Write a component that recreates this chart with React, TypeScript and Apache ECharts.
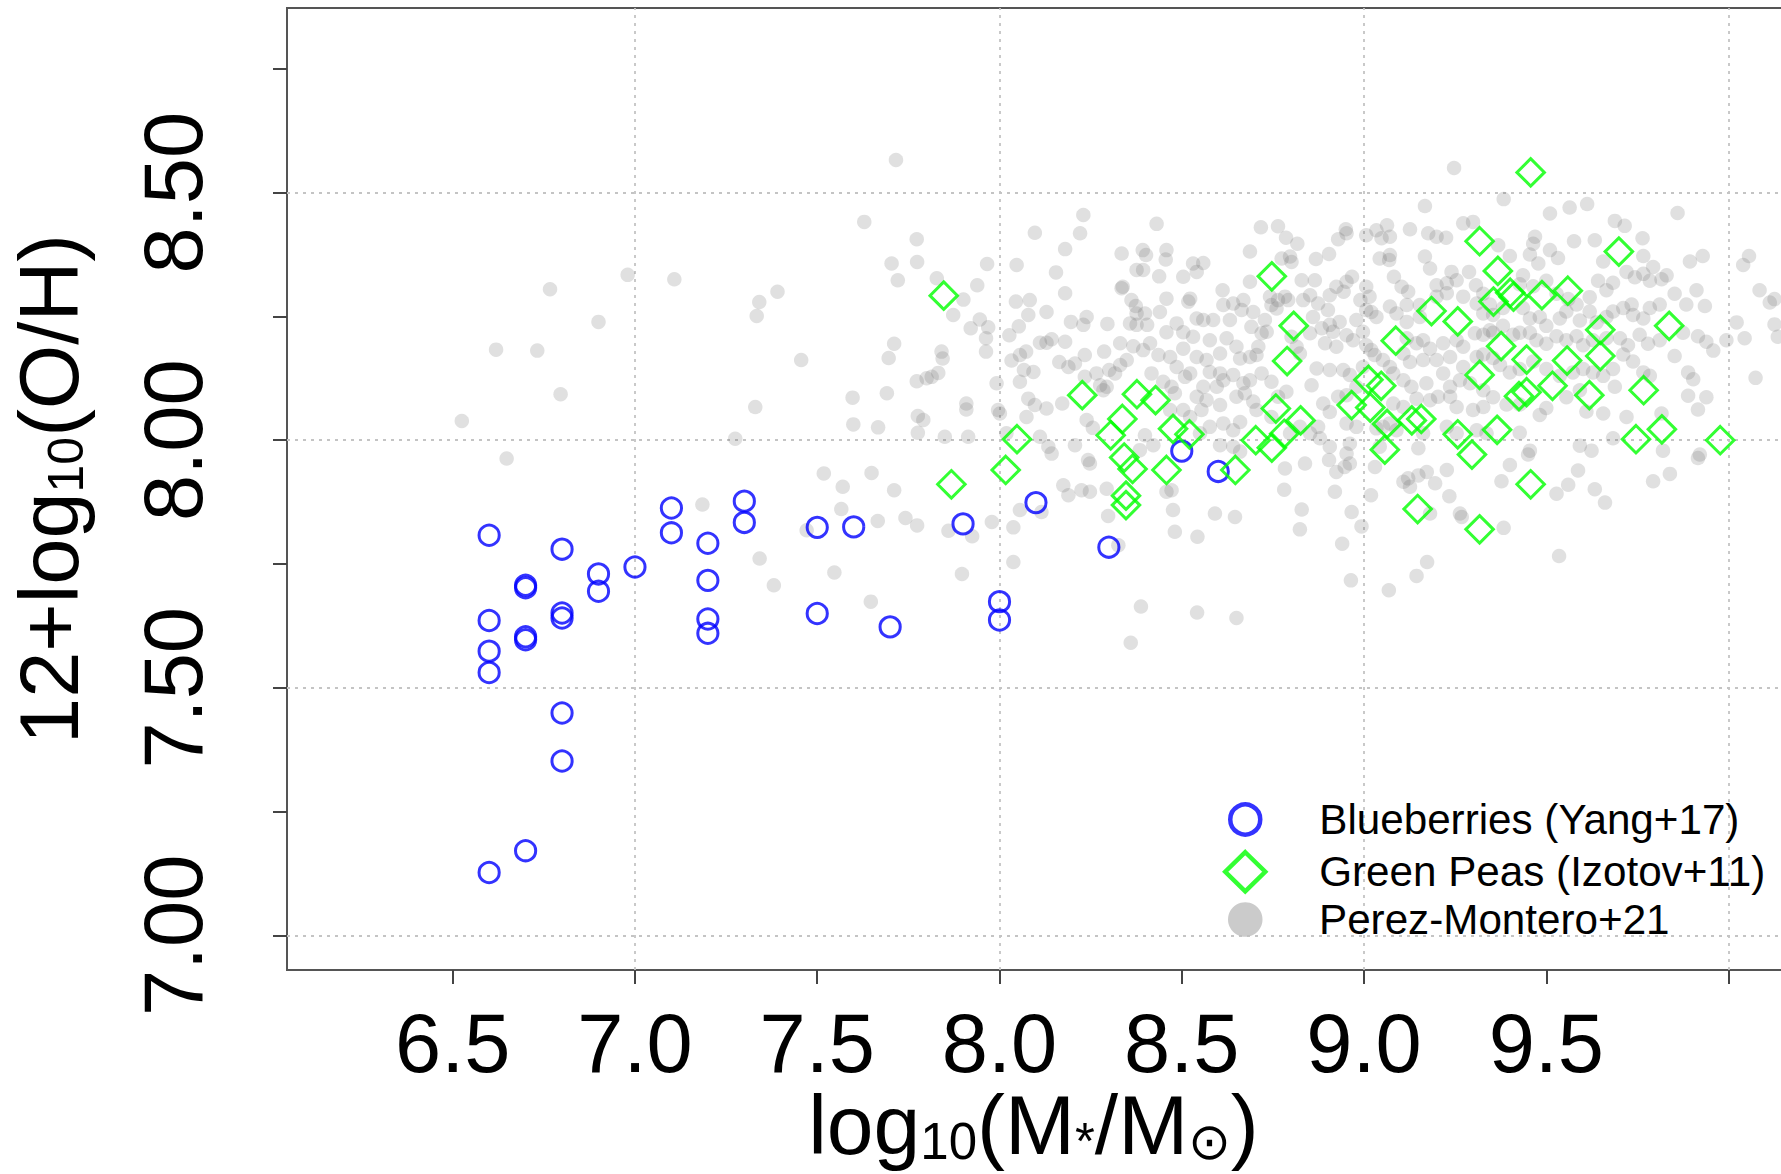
import React, { useEffect, useRef } from "react";
import * as echarts from "echarts";

// ---------------- data ----------------
const seriesNames = ["Blueberries (Yang+17)", "Green Peas (Izotov+11)", "Perez-Montero+21"];

const blueberries: number[][] = [
  [6.6, 7.808], [6.6, 7.636], [6.6, 7.574], [6.6, 7.531], [6.6, 7.127],
  [6.7, 7.707], [6.7, 7.702], [6.7, 7.603], [6.7, 7.597], [6.7, 7.171],
  [6.8, 7.78], [6.8, 7.651], [6.8, 7.641], [6.8, 7.449], [6.8, 7.352],
  [6.9, 7.73], [6.9, 7.695], [7.0, 7.744], [7.1, 7.863], [7.1, 7.813],
  [7.2, 7.792], [7.2, 7.717], [7.2, 7.639], [7.2, 7.61], [7.3, 7.877], [7.3, 7.834],
  [7.5, 7.824], [7.5, 7.65], [7.6, 7.825], [7.7, 7.623], [7.9, 7.831],
  [8.0, 7.674], [8.0, 7.637], [8.1, 7.874], [8.3, 7.784], [8.5, 7.978], [8.6, 7.937],
];

const greenPeas: number[][] = [
  [7.847, 8.292], [7.868, 7.911], [8.017, 7.94], [8.048, 8.002], [8.227, 8.091],
  [8.337, 8.043], [8.305, 8.01], [8.377, 8.093], [8.428, 8.081], [8.342, 7.965],
  [8.365, 7.942], [8.347, 7.888], [8.347, 7.869], [8.458, 7.94], [8.476, 8.023],
  [8.521, 8.012], [8.747, 8.331], [8.807, 8.231], [8.789, 8.16], [8.647, 7.94],
  [8.703, 8.0], [8.747, 7.985], [8.758, 8.064], [8.781, 8.013], [8.826, 8.04],
  [8.966, 8.071], [9.012, 8.122], [9.047, 8.11], [9.017, 8.066], [9.063, 8.033],
  [9.057, 7.981], [9.087, 8.201], [9.131, 8.04], [9.157, 8.043], [9.147, 7.861],
  [9.185, 8.261], [9.257, 8.24], [9.257, 8.012], [9.296, 7.971], [9.317, 8.402],
  [9.317, 8.132], [9.317, 7.82], [9.355, 8.28], [9.367, 8.342], [9.365, 8.021],
  [9.376, 8.19], [9.401, 8.298], [9.41, 8.29], [9.446, 8.163], [9.425, 8.089],
  [9.446, 8.097], [9.457, 8.541], [9.457, 7.911], [9.488, 8.293], [9.517, 8.11],
  [9.557, 8.161], [9.559, 8.302], [9.618, 8.091], [9.648, 8.223], [9.648, 8.17],
  [9.699, 8.381], [9.746, 8.002], [9.767, 8.101], [9.817, 8.022], [9.837, 8.231],
  [9.977, 8.0],
];

const perezMontero: number[][] = [
  [7.716, 8.566], [7.629, 8.441], [7.773, 8.406], [7.704, 8.357], [7.774, 8.36], [7.721, 8.323],
  [6.767, 8.305], [6.98, 8.334], [7.108, 8.325], [7.391, 8.3], [7.341, 8.279], [7.334, 8.251],
  [6.9, 8.239], [6.619, 8.183], [6.732, 8.181], [7.456, 8.162], [7.711, 8.195], [7.696, 8.166],
  [7.773, 8.119], [6.796, 8.093], [7.597, 8.086], [7.691, 8.095], [7.33, 8.067], [6.525, 8.039],
  [7.599, 8.032], [7.667, 8.026], [7.776, 8.049], [7.776, 8.015], [7.275, 8.003], [6.648, 7.963],
  [7.518, 7.933], [7.649, 7.934], [7.57, 7.906], [7.711, 7.899], [7.185, 7.87], [7.566, 7.861],
  [7.666, 7.837], [7.742, 7.843], [7.774, 7.828], [7.471, 7.818], [7.342, 7.761], [7.381, 7.707],
  [7.547, 7.733], [7.647, 7.674], [7.897, 7.73], [8.038, 7.754], [8.388, 7.664], [8.36, 7.591],
  [8.542, 7.652],
  [7.828, 8.327], [7.873, 8.253], [7.901, 8.284], [7.939, 8.313], [7.966, 8.356], [7.921, 8.226],
  [7.946, 8.244], [7.969, 8.228], [7.963, 8.206], [7.963, 8.179], [7.841, 8.179], [7.844, 8.165],
  [7.8, 8.125], [7.814, 8.128], [7.832, 8.136], [7.992, 8.115], [7.909, 8.074], [7.909, 8.062],
  [7.791, 8.041], [7.85, 8.007], [7.914, 8.007], [7.996, 8.061], [8.001, 8.054], [8.019, 8.014],
  [8.047, 8.354], [8.097, 8.419], [8.155, 8.339], [8.18, 8.386], [8.221, 8.418], [8.23, 8.455],
  [8.18, 8.297], [8.045, 8.28], [8.083, 8.283], [8.079, 8.253], [8.129, 8.259], [8.053, 8.23],
  [8.027, 8.212], [8.111, 8.197], [8.129, 8.197], [8.143, 8.204], [8.18, 8.199], [8.196, 8.239],
  [8.23, 8.233], [8.239, 8.249], [8.296, 8.235], [8.033, 8.161], [8.056, 8.172], [8.073, 8.179],
  [8.067, 8.142], [8.093, 8.138], [8.056, 8.118], [8.164, 8.158], [8.189, 8.148], [8.207, 8.155],
  [8.234, 8.172], [8.287, 8.179], [8.079, 8.084], [8.097, 8.071], [8.129, 8.064], [8.172, 8.074],
  [8.074, 8.047], [8.111, 8.007], [8.134, 7.987], [8.143, 7.973], [8.207, 7.99], [8.239, 8.041],
  [8.256, 8.025], [8.234, 8.128], [8.266, 8.135], [8.276, 8.111], [8.301, 8.142], [8.317, 8.135],
  [8.331, 8.152], [8.349, 8.162], [8.331, 8.196], [8.367, 8.19], [8.394, 8.182], [8.413, 8.196],
  [8.285, 8.101], [8.294, 8.108], [8.335, 8.307], [8.338, 8.31], [8.335, 8.377], [8.393, 8.384],
  [8.402, 8.374], [8.376, 8.344], [8.394, 8.344], [8.431, 8.437], [8.458, 8.384], [8.456, 8.365],
  [8.438, 8.331], [8.504, 8.33], [8.531, 8.357], [8.541, 8.34], [8.362, 8.283], [8.374, 8.271],
  [8.376, 8.256], [8.399, 8.256], [8.358, 8.236], [8.376, 8.233], [8.405, 8.233], [8.458, 8.286],
  [8.44, 8.259], [8.523, 8.286], [8.518, 8.28], [8.541, 8.246], [8.486, 8.236], [8.458, 8.218],
  [8.504, 8.218], [8.531, 8.209], [8.436, 8.172], [8.468, 8.168], [8.486, 8.148], [8.504, 8.185],
  [8.509, 8.128], [8.417, 8.135], [8.449, 8.118], [8.472, 8.108], [8.481, 8.095], [8.468, 8.061],
  [8.504, 8.061], [8.523, 8.047], [8.399, 8.01], [8.422, 7.99], [8.385, 7.98], [8.243, 7.96],
  [8.248, 7.953],
  [7.86, 7.817], [7.925, 7.806], [7.979, 7.835], [8.038, 7.824], [8.056, 7.859], [8.115, 7.855],
  [8.175, 7.909], [8.189, 7.889], [8.225, 7.899], [8.248, 7.896], [8.294, 7.902], [8.298, 7.847],
  [8.326, 7.788], [8.458, 7.896], [8.472, 7.899], [8.476, 7.859], [8.481, 7.815], [8.543, 7.805],
  [9.247, 8.55], [9.167, 8.473], [8.717, 8.43], [8.764, 8.432], [8.786, 8.409], [8.817, 8.397],
  [8.687, 8.381], [8.559, 8.358], [8.797, 8.371], [8.774, 8.367], [8.801, 8.36], [8.868, 8.366],
  [8.904, 8.376], [8.929, 8.406], [8.95, 8.426], [8.952, 8.418], [9.006, 8.414], [9.034, 8.424],
  [9.063, 8.434], [9.071, 8.411], [9.048, 8.408], [9.126, 8.426], [9.176, 8.418], [9.199, 8.411],
  [9.225, 8.409], [9.272, 8.438], [9.299, 8.441], [9.043, 8.367], [9.071, 8.374], [9.069, 8.364],
  [9.167, 8.371], [9.181, 8.347], [9.24, 8.34], [9.254, 8.323], [9.227, 8.317], [9.199, 8.313],
  [9.082, 8.33], [9.103, 8.31], [9.121, 8.3], [9.288, 8.34], [9.307, 8.313], [8.612, 8.303],
  [8.687, 8.32], [8.669, 8.283], [8.641, 8.276], [8.614, 8.273], [8.742, 8.29], [8.764, 8.283],
  [8.783, 8.29], [8.792, 8.283], [8.76, 8.266], [8.746, 8.273], [8.829, 8.323], [8.865, 8.323],
  [8.852, 8.293], [8.874, 8.276], [8.833, 8.283], [8.906, 8.293], [8.924, 8.31], [8.944, 8.3],
  [8.967, 8.33], [8.952, 8.32], [9.006, 8.31], [9.015, 8.29], [8.99, 8.283], [9.071, 8.27],
  [9.117, 8.273], [9.153, 8.273], [9.199, 8.29], [9.227, 8.297], [9.272, 8.29], [9.309, 8.276],
  [9.327, 8.256], [8.559, 8.243], [8.586, 8.243], [8.632, 8.243], [8.664, 8.263], [8.696, 8.259],
  [8.691, 8.229], [8.728, 8.243], [8.733, 8.219], [8.719, 8.216], [8.71, 8.189], [8.86, 8.249],
  [8.901, 8.263], [8.906, 8.233], [8.933, 8.239], [8.979, 8.243], [9.006, 8.263], [9.02, 8.259],
  [9.034, 8.249], [9.089, 8.256], [9.117, 8.239], [9.153, 8.249], [8.623, 8.206], [8.577, 8.202],
  [8.605, 8.175], [8.65, 8.189], [8.541, 8.168], [8.568, 8.162], [8.523, 8.135], [8.66, 8.165],
  [8.687, 8.168], [8.705, 8.172], [8.801, 8.209], [8.815, 8.189], [8.824, 8.175], [8.852, 8.216],
  [8.884, 8.226], [8.915, 8.219], [8.893, 8.196], [8.924, 8.189], [8.952, 8.212], [8.97, 8.202],
  [8.997, 8.219], [9.006, 8.192], [9.02, 8.182], [9.029, 8.172], [9.052, 8.162], [9.071, 8.148],
  [9.117, 8.206], [9.144, 8.196], [9.162, 8.202], [9.181, 8.185], [9.217, 8.196], [9.254, 8.202],
  [9.272, 8.189], [9.304, 8.216], [9.345, 8.222], [9.108, 8.175], [9.126, 8.158], [9.162, 8.162],
  [9.199, 8.162], [9.236, 8.168], [9.272, 8.148], [9.309, 8.168], [8.577, 8.138], [8.605, 8.135],
  [8.641, 8.132], [8.614, 8.121], [8.596, 8.108], [8.559, 8.108], [8.669, 8.115], [8.687, 8.121],
  [8.719, 8.135], [8.746, 8.118], [8.787, 8.098], [8.764, 8.088], [8.856, 8.111], [8.87, 8.145],
  [8.906, 8.142], [8.943, 8.142], [8.961, 8.132], [8.997, 8.148], [8.979, 8.108], [9.08, 8.135],
  [9.108, 8.121], [9.13, 8.108], [9.171, 8.115], [9.217, 8.135], [9.236, 8.108], [9.263, 8.121],
  [9.291, 8.115], [8.541, 8.088], [8.568, 8.081], [8.554, 8.061], [8.605, 8.071], [8.65, 8.088],
  [8.673, 8.095], [8.696, 8.078], [8.705, 8.061], [8.746, 8.047], [8.614, 8.034], [8.66, 8.037],
  [8.641, 8.02], [8.577, 8.027], [8.55, 8.014], [8.888, 8.074], [8.906, 8.057], [8.929, 8.088],
  [8.952, 8.091], [9.08, 8.074], [9.108, 8.067], [9.144, 8.084], [9.181, 8.081], [9.203, 8.088],
  [9.236, 8.088], [9.254, 8.067], [9.299, 8.061], [9.327, 8.067], [8.952, 8.034], [8.979, 8.027],
  [9.034, 8.024], [9.089, 8.02], [9.162, 8.014], [9.227, 8.027], [9.254, 8.014], [9.309, 8.02],
  [9.336, 8.014], [8.824, 8.027], [8.852, 8.014], [8.797, 8.014],
  [8.605, 7.99], [8.641, 7.987], [8.66, 7.977], [8.783, 7.943], [8.838, 7.953], [8.874, 8.027],
  [8.879, 8.004], [8.906, 7.987], [8.904, 7.96], [8.924, 7.936], [8.947, 7.946], [8.961, 7.953],
  [8.952, 7.973], [8.961, 7.993], [8.781, 7.9], [8.92, 7.896], [8.829, 7.86], [8.591, 7.852],
  [8.646, 7.845], [8.824, 7.82], [8.966, 7.855], [8.993, 7.826], [8.94, 7.791], [9.019, 7.889],
  [9.03, 7.946], [9.043, 7.987], [9.052, 8.027], [9.071, 8.034], [9.108, 7.916], [9.121, 7.923],
  [9.126, 7.906], [9.149, 7.929], [9.172, 7.936], [9.195, 7.913], [9.149, 7.984], [9.227, 7.94],
  [9.234, 7.887], [9.181, 7.852], [9.263, 7.852], [9.268, 7.845], [9.173, 7.754], [9.144, 7.726],
  [9.068, 7.697], [8.964, 7.717], [8.65, 7.641],
  [9.383, 8.487], [9.51, 8.458], [9.564, 8.47], [9.612, 8.477], [9.86, 8.459], [9.688, 8.443],
  [9.715, 8.433], [9.469, 8.411], [9.464, 8.397], [9.576, 8.402], [9.633, 8.404], [9.764, 8.408],
  [9.455, 8.375], [9.478, 8.357], [9.51, 8.384], [9.532, 8.368], [9.4, 8.372], [9.368, 8.394],
  [9.656, 8.361], [9.766, 8.372], [9.793, 8.35], [9.894, 8.361], [9.929, 8.372], [10.04, 8.354],
  [10.056, 8.372], [9.72, 8.34], [9.743, 8.329], [9.766, 8.336], [9.784, 8.322], [9.816, 8.325],
  [9.83, 8.333], [9.642, 8.322], [9.665, 8.303], [9.683, 8.318], [9.852, 8.296], [9.884, 8.274],
  [9.912, 8.303], [9.935, 8.271], [10.085, 8.303], [10.113, 8.278], [10.126, 8.285], [9.436, 8.333],
  [9.427, 8.315], [9.464, 8.311], [9.5, 8.322], [9.528, 8.296], [9.56, 8.285], [9.583, 8.274],
  [9.619, 8.289], [9.327, 8.296], [9.345, 8.274], [9.354, 8.253], [9.381, 8.267], [9.436, 8.267],
  [9.455, 8.246], [9.482, 8.249], [9.5, 8.231], [9.537, 8.246], [9.555, 8.26], [9.592, 8.242],
  [9.619, 8.26], [9.638, 8.238], [9.665, 8.249], [9.683, 8.26], [9.711, 8.267], [9.734, 8.274],
  [9.738, 8.253], [9.766, 8.246], [9.784, 8.267], [9.811, 8.274], [9.327, 8.213], [9.354, 8.217],
  [9.381, 8.231], [9.409, 8.213], [9.427, 8.217], [9.455, 8.217], [9.473, 8.202], [9.5, 8.195],
  [9.528, 8.21], [9.555, 8.202], [9.583, 8.21], [9.601, 8.192], [9.628, 8.202], [9.665, 8.206],
  [9.702, 8.206], [9.724, 8.192], [9.756, 8.213], [9.779, 8.195], [9.811, 8.202], [9.852, 8.17],
  [9.875, 8.217], [9.916, 8.21], [9.939, 8.199], [9.958, 8.181], [9.994, 8.202], [10.022, 8.238],
  [10.044, 8.206], [10.126, 8.234], [10.135, 8.209], [10.074, 8.126], [9.889, 8.137], [9.903, 8.123],
  [9.889, 8.09], [9.939, 8.087], [9.916, 8.062], [9.72, 8.047], [9.683, 8.004], [9.816, 8.054],
  [9.82, 7.979], [9.839, 7.932], [9.793, 7.917], [9.916, 7.964], [9.921, 7.971], [9.327, 8.173],
  [9.354, 8.166], [9.373, 8.152], [9.4, 8.137], [9.427, 8.144], [9.464, 8.159], [9.5, 8.144],
  [9.537, 8.13], [9.573, 8.137], [9.601, 8.144], [9.628, 8.137], [9.656, 8.13], [9.683, 8.144],
  [9.711, 8.173], [9.738, 8.159], [9.766, 8.137], [9.784, 8.13], [9.327, 8.101], [9.354, 8.087],
  [9.391, 8.072], [9.427, 8.072], [9.482, 8.051], [9.5, 8.065], [9.555, 8.087], [9.592, 8.101],
  [9.61, 8.058], [9.656, 8.054], [9.688, 8.108], [9.427, 8.015], [9.455, 7.979], [9.45, 7.971],
  [9.4, 7.95], [9.377, 7.917], [9.592, 7.989], [9.624, 7.979], [9.587, 7.939], [9.528, 7.892],
  [9.56, 7.91], [9.633, 7.901], [9.661, 7.874], [9.383, 7.823], [9.535, 7.766],
];

// axis ticks / labels / grid lines
const xTickValues = [6.5, 7.0, 7.5, 8.0, 8.5, 9.0, 9.5, 10.0];
const xLabelValues = [6.5, 7.0, 7.5, 8.0, 8.5, 9.0, 9.5];
const xGridValues = [7.0, 8.0, 9.0, 10.0];
const yTickValues = [7.0, 7.25, 7.5, 7.75, 8.0, 8.25, 8.5, 8.75];
const yLabelValues = [7.0, 7.5, 8.0, 8.5];
const yGridValues = [7.0, 7.5, 8.0, 8.5];

// ---------------- styling ----------------
const FONT = "'Liberation Sans', Arial, Helvetica, sans-serif";
const SYMFONT = "'Liberation Sans', 'DejaVu Sans', sans-serif";

const xMainTok = { fontSize: 84, lineHeight: 84, verticalAlign: "bottom", fontFamily: FONT, color: "#000" };
const xSubTok = { fontSize: 51, lineHeight: 34, verticalAlign: "bottom", fontFamily: SYMFONT, color: "#000" };
const yMainTok = { fontSize: 83, lineHeight: 86, verticalAlign: "bottom", fontFamily: FONT, color: "#000" };
const ySubTok = { fontSize: 50, lineHeight: 36, verticalAlign: "bottom", fontFamily: SYMFONT, color: "#000" };

function buildOption(): any {
  const legendText = (pad: number, lh: number) => ({
    fontSize: 42.2,
    lineHeight: lh,
    color: "#000",
    fontFamily: FONT,
    padding: [0, 0, 0, pad],
  });
  return {
    animation: false,
    backgroundColor: "#ffffff",
    grid: {
      left: 287,
      top: 8,
      right: 16,
      bottom: 204,
      show: true,
      borderColor: "#555555",
      borderWidth: 2,
      backgroundColor: "transparent",
      containLabel: false,
      outerBoundsMode: "none",
    },
    xAxis: {
      type: "value",
      min: 6.0455,
      max: 10.152,
      axisLine: { show: false },
      axisTick: {
        show: true,
        inside: false,
        length: 14,
        lineStyle: { color: "#444444", width: 2 },
        customValues: xTickValues,
      },
      axisLabel: {
        show: true,
        customValues: xLabelValues,
        margin: 38.5,
        fontSize: 83,
        lineHeight: 70,
        color: "#000",
        fontFamily: FONT,
        formatter: (v: number) => v.toFixed(1),
      },
      splitLine: { show: false },
      name: "{m|log}{s|10}{m|(M}{s|*}{m|/M}{s|⊙}{m|)}",
      nameLocation: "middle",
      nameGap: 113,
      nameMoveOverlap: false,
      nameTextStyle: { fontFamily: FONT, color: "#000", padding: [0, 4, 0, 0], rich: { m: xMainTok, s: xSubTok } },
    },
    yAxis: {
      type: "value",
      min: 6.93,
      max: 8.873,
      axisLine: { show: false },
      axisTick: {
        show: true,
        inside: false,
        length: 14,
        lineStyle: { color: "#444444", width: 2 },
        customValues: yTickValues,
      },
      axisLabel: {
        show: true,
        customValues: yLabelValues,
        rotate: 90,
        margin: 72,
        fontSize: 83,
        color: "#000",
        fontFamily: FONT,
        formatter: (v: number) => v.toFixed(2),
      },
      splitLine: { show: false },
      name: "{m|12+log}{s|10}{m|(O/H)}",
      nameLocation: "middle",
      nameRotate: 90,
      nameGap: 196,
      nameMoveOverlap: false,
      nameTextStyle: { fontFamily: FONT, color: "#000", rich: { m: yMainTok, s: ySubTok } },
    },
    legend: [
      {
        data: [{ name: seriesNames[0], icon: "circle" }],
        orient: "vertical",
        left: 1228,
        top: 798.5,
        padding: 0,
        itemWidth: 30,
        itemHeight: 30,
        selectedMode: false,
        itemStyle: { color: "rgba(0,0,0,0)", borderColor: "#0000ff", borderWidth: 4.5 },
        textStyle: legendText(54, 30),
      },
      {
        data: [{ name: seriesNames[1], icon: "diamond" }],
        orient: "vertical",
        left: 1223,
        top: 850,
        padding: 0,
        itemWidth: 40,
        itemHeight: 39,
        selectedMode: false,
        itemStyle: { color: "rgba(0,0,0,0)", borderColor: "#00ff00", borderWidth: 4.5 },
        textStyle: legendText(49, 39),
      },
      {
        data: [{ name: seriesNames[2], icon: "circle" }],
        orient: "vertical",
        left: 1228,
        top: 898.5,
        padding: 0,
        itemWidth: 34.5,
        itemHeight: 34.5,
        selectedMode: false,
        itemStyle: { color: "#bebebe", borderWidth: 0 },
        textStyle: legendText(51.5, 34),
      },
    ],
    series: [
      {
        name: seriesNames[2],
        type: "scatter",
        data: perezMontero,
        symbol: "circle",
        symbolSize: 14.5,
        silent: true,
        z: 2,
        itemStyle: { color: "rgba(100,100,100,0.25)" },
        emphasis: { disabled: true },
        markLine: {
          silent: true,
          z: 1,
          symbol: ["none", "none"],
          animation: false,
          label: { show: false },
          emphasis: { disabled: true },
          lineStyle: { color: "#c4c4c4", type: [3, 5], width: 1.8 },
          data: [
            ...xGridValues.map((v) => ({ xAxis: v })),
            ...yGridValues.map((v) => ({ yAxis: v })),
          ],
        },
      },
      {
        name: seriesNames[0],
        type: "scatter",
        data: blueberries,
        symbol: "circle",
        symbolSize: 20.2,
        silent: true,
        z: 3,
        itemStyle: { color: "rgba(0,0,0,0)", borderColor: "#0000ff", borderWidth: 3 },
        emphasis: { disabled: true },
      },
      {
        name: seriesNames[1],
        type: "scatter",
        data: greenPeas,
        symbol: "diamond",
        symbolSize: 27.5,
        silent: true,
        z: 4,
        itemStyle: { color: "rgba(0,0,0,0)", borderColor: "#00ff00", borderWidth: 3 },
        emphasis: { disabled: true },
      },
    ],
  };
}

export default function App() {
  const ref = useRef<HTMLDivElement>(null);
  useEffect(() => {
    if (!ref.current) return;
    const chart = echarts.init(ref.current, undefined, { renderer: "svg" });
    chart.setOption(buildOption());
    return () => {
      chart.dispose();
    };
  }, []);
  return (
    <div
      style={{
        position: "fixed",
        left: 0,
        top: 0,
        width: 1781,
        height: 1174,
        overflow: "hidden",
        background: "#ffffff",
      }}
    >
      <div ref={ref} style={{ width: 1800, height: 1174 }} />
    </div>
  );
}
